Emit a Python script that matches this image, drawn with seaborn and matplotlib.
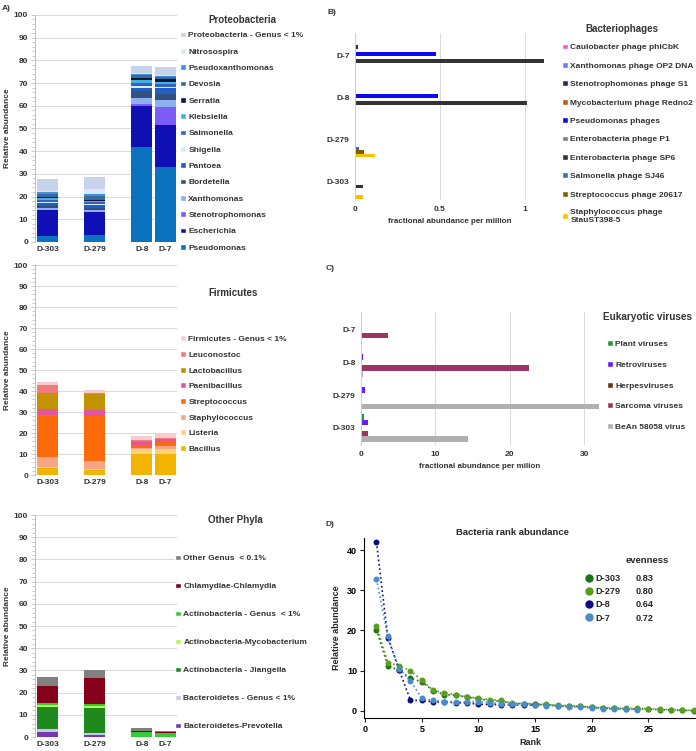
import numpy as np
import pandas as pd
import seaborn as sns
import matplotlib.pyplot as plt
from matplotlib.patches import Patch
from matplotlib.lines import Line2D
from matplotlib.ticker import MultipleLocator

sns.set_theme(style="white")
plt.rcParams["font.family"] = ["Liberation Sans", "DejaVu Sans"]
plt.rcParams["font.weight"] = "bold"
plt.rcParams["axes.labelweight"] = "bold"
TXT = "#333333"

# ---------------- data ----------------
samples = ["D-303", "D-279", "D-8", "D-7"]

# A) Proteobacteria, stacking order bottom -> top
proteo_genus = ["Pseudomonas", "Escherichia", "Stenotrophomonas", "Xanthomonas", "Bordetella",
                "Pantoea", "Shigella", "Salmonella", "Klebsiella", "Serratia", "Devosia",
                "Pseudoxanthomonas", "Nitrosospira", "Proteobacteria - Genus < 1%"]
proteo_colors = ["#0b72bf", "#1010b4", "#7b5cf5", "#8fb0f0", "#34507f", "#1f5fbf", "#d6ecfa",
                 "#3060c8", "#45b0e0", "#0d1a33", "#3a6a9a", "#3f8fe8", "#dce8f6", "#c8d2ea"]
proteo_d303 = [2.5, 11.5, 0.2, 0.7, 1.0, 1.2, 0.5, 1.0, 0.6, 0.5, 1.5, 0.8, 0.3, 5.4]
proteo_d279 = [3.0, 10.0, 0.3, 0.7, 0.8, 1.5, 0.4, 1.0, 0.5, 0.4, 1.8, 0.9, 2.0, 5.2]
proteo_d8   = [41.8, 17.9, 1.0, 2.7, 2.9, 1.5, 1.0, 1.2, 1.2, 1.2, 1.0, 0.8, 0.3, 2.8]
proteo_d7   = [32.9, 18.7, 7.8, 3.0, 2.9, 2.5, 0.6, 1.0, 1.2, 1.0, 1.0, 0.7, 0.3, 3.5]

# A) Firmicutes
firm_genus = ["Bacillus", "Listeria", "Staphylococcus", "Streptococcus", "Paenibacillus",
              "Lactobacillus", "Leuconostoc", "Firmicutes - Genus < 1%"]
firm_colors = ["#f2b400", "#ffd27a", "#f8a585", "#ff6a0a", "#e3579a", "#c39200", "#f27c7c", "#f9cdd0"]
firm_d303 = [3.2, 0.8, 4.4, 20.2, 2.7, 7.6, 4.0, 1.5]
firm_d279 = [2.2, 0.8, 3.7, 21.3, 3.0, 7.5, 0.7, 1.4]
firm_d8   = [10.2, 2.0, 0.8, 1.5, 1.3, 0.2, 0.6, 1.8]
firm_d7   = [10.0, 2.3, 1.5, 1.9, 1.3, 0.2, 0.4, 2.2]

# A) Other phyla
other_genus = ["Bacteroidetes-Prevotella", "Bacteroidetes - Genus < 1%", "Actinobacteria - Jiangella",
               "Actinobacteria-Mycobacterium", "Actinobacteria - Genus  < 1%",
               "Chlamydiae-Chlamydia", "Other Genus  < 0.1%"]
other_colors = ["#7a35b0", "#cac4f2", "#1e8a1e", "#b8f550", "#33cc33", "#85001a", "#808080"]
other_d303 = [2.1, 1.5, 9.9, 1.0, 0.8, 7.8, 3.9]
other_d279 = [1.0, 1.0, 11.0, 1.0, 0.8, 11.8, 3.7]
other_d8   = [0.0, 0.1, 0.1, 0.0, 2.2, 0.4, 1.3]
other_d7   = [0.0, 0.1, 0.1, 0.0, 1.6, 0.3, 0.4]

# B) Bacteriophages (samples top -> bottom)
samples_hb = ["D-7", "D-8", "D-279", "D-303"]
phage_names = ["Caulobacter phage phiCbK", "Xanthomonas phage OP2 DNA", "Stenotrophomonas phage S1",
               "Mycobacterium phage Redno2", "Pseudomonas phages", "Enterobacteria phage P1",
               "Enterobacteria phage SP6", "Salmonella phage SJ46", "Streptococcus phage 20617",
               "Staphylococcus phage\nStauST398-5"]
phage_colors = ["#f25cc5", "#6f7cff", "#1f2d5a", "#c55a11", "#0a0af0", "#808080",
                "#333333", "#2e75b6", "#7f6000", "#ffc000"]
caulobacter = [0, 0, 0, 0]
xanthomonas = [0.006, 0, 0, 0]
stenotroph  = [0.02, 0, 0, 0]
mycobact    = [0, 0.005, 0, 0]
pseudomonas = [0.476, 0.487, 0, 0]
entero_p1   = [0, 0, 0, 0]
entero_sp6  = [1.112, 1.01, 0, 0.047]
salmonella  = [0.005, 0, 0.024, 0]
streptoc    = [0, 0, 0.053, 0]
staphyloc   = [0, 0, 0.118, 0.047]

# C) Eukaryotic viruses
virus_names = ["Plant viruses", "Retroviruses", "Herpesviruses", "Sarcoma viruses", "BeAn 58058 virus"]
virus_colors = ["#1e9e2a", "#6a1bff", "#6b3410", "#9e3466", "#b0b0b0"]
plant   = [0.15, 0, 0, 0.45]
retro   = [0, 0.2, 0.5, 1.0]
herpes  = [0, 0, 0, 0]
sarcoma = [3.6, 22.6, 0, 1.0]
bean    = [0.1, 0.2, 32.5, 14.4]

# D) rank abundance
rank_samples = ["D-303", "D-279", "D-8", "D-7"]
rank_colors = ["#1a721a", "#5a9e1a", "#0c0c80", "#4a8cc8"]
evenness = ["0.83", "0.80", "0.64", "0.72"]
rank_d303 = [20.2, 11.2, 10.1, 8.1, 7.2, 5.0, 4.0, 3.9, 3.4, 3.0, 2.5, 2.4, 1.8, 1.8, 1.6,
             1.5, 1.3, 1.1, 1.1, 0.9, 0.7, 0.6, 0.5, 0.5, 0.4, 0.3, 0.2, 0.1, 0.05]
rank_d279 = [21.2, 12.0, 11.2, 10.0, 7.6, 5.1, 4.5, 4.0, 3.5, 3.1, 2.8, 2.6, 1.9, 1.8, 1.8,
             1.6, 1.4, 1.3, 1.2, 0.9, 0.8, 0.7, 0.6, 0.6, 0.5, 0.4, 0.3, 0.2, 0.1]
rank_d8   = [42.0, 18.2, 10.2, 2.6, 2.6, 2.2, 2.2, 2.0, 2.0, 1.6, 1.6, 1.5, 1.5, 1.4, 1.4]
rank_d7   = [32.8, 18.5, 10.5, 7.5, 3.1, 2.6, 2.3, 2.3, 2.2, 2.3, 2.0, 1.8, 1.6, 1.6, 1.5,
             1.3, 1.2, 1.0, 0.9, 0.7, 0.5, 0.4, 0.4, 0.3]

# ---------------- layout ----------------
bar_pos = [0, 2, 4, 5]
fig = plt.figure(figsize=(6.96, 7.51), dpi=100)


def stacked_panel(rect, genus, colors, cols, title, title_xy, leg_xy, spacing):
    ax = fig.add_axes(rect)
    vals = np.array(cols).T
    bottoms = np.zeros(len(samples))
    for g, c, v in zip(genus, colors, vals):
        ax.bar(bar_pos, v, bottom=bottoms, width=0.9, color=c, linewidth=0)
        bottoms += v
    ax.set_xlim(-0.55, 5.5)
    ax.set_ylim(0, 100)
    ax.set_yticks(range(0, 101, 10))
    ax.yaxis.set_minor_locator(MultipleLocator(2))
    ax.set_xticks(bar_pos, samples)
    ax.grid(axis="y", color="#d9d9d9", lw=0.7)
    ax.set_axisbelow(True)
    for s in ["top", "right", "bottom"]:
        ax.spines[s].set_visible(False)
    ax.spines["left"].set_color("#bfbfbf")
    ax.spines["left"].set_linewidth(0.7)
    ax.tick_params(axis="y", which="both", left=True, color="#bfbfbf", width=0.6,
                   labelsize=6, labelcolor=TXT, pad=2)
    ax.tick_params(axis="y", which="major", length=3)
    ax.tick_params(axis="y", which="minor", length=2)
    ax.tick_params(axis="x", length=0, labelsize=6, labelcolor=TXT, pad=3)
    ax.set_ylabel("Relative abundance", fontsize=6, color=TXT, labelpad=2)
    fig.text(*title_xy, title, fontsize=7, color=TXT, ha="center", va="center")
    handles = [Patch(facecolor=c) for c in colors[::-1]]
    fig.legend(handles, genus[::-1], loc="upper left", bbox_to_anchor=leg_xy, frameon=False,
               fontsize=6, labelcolor=TXT, handlelength=0.7, handleheight=0.7,
               handletextpad=0.3, labelspacing=spacing, borderpad=0, borderaxespad=0)
    return ax


stacked_panel([0.0503, 0.6778, 0.204, 0.3023], proteo_genus, proteo_colors,
              [proteo_d303, proteo_d279, proteo_d8, proteo_d7], "Proteobacteria",
              (0.348, 0.9734), (0.2586, 0.958), 1.02)
stacked_panel([0.0503, 0.3675, 0.204, 0.2796], firm_genus, firm_colors,
              [firm_d303, firm_d279, firm_d8, firm_d7], "Firmicutes",
              (0.335, 0.6099), (0.2586, 0.5533), 0.94)
stacked_panel([0.0503, 0.0186, 0.204, 0.2956], other_genus, other_colors,
              [other_d303, other_d279, other_d8, other_d7], "Other Phyla",
              (0.3376, 0.3076), (0.2514, 0.2616), 2.42)


def hbar_panel(rect, names, colors, series, xlim, ylim, xticks, xticklabels, xlabel,
               title, title_xy, leg_xy, spacing, title_size):
    ax = fig.add_axes(rect)
    rows = [(s, n, v) for n, vals in zip(names, series) for s, v in zip(samples_hb, vals)]
    df = pd.DataFrame(rows, columns=["sample", "group", "value"])
    sns.barplot(data=df, x="value", y="sample", hue="group", order=samples_hb,
                hue_order=names, palette=colors, orient="h", width=0.85, saturation=1,
                errorbar=None, legend=False, linewidth=0, ax=ax)
    ax.set_xlim(*xlim)
    ax.set_ylim(*ylim)
    ax.set_xticks(xticks, xticklabels)
    ax.grid(axis="x", color="#d9d9d9", lw=0.7)
    ax.set_axisbelow(True)
    for s in ["top", "right", "bottom"]:
        ax.spines[s].set_visible(False)
    ax.spines["left"].set_color("#d0d0d0")
    ax.spines["left"].set_linewidth(0.7)
    ax.tick_params(axis="both", length=0, labelsize=6, labelcolor=TXT, pad=4)
    ax.set_ylabel("")
    ax.set_xlabel(xlabel, fontsize=5.8, color=TXT, labelpad=4)
    fig.text(*title_xy, title, fontsize=title_size, color=TXT, ha="center", va="center")
    handles = [Patch(facecolor=c) for c in colors]
    fig.legend(handles, names, loc="upper left", bbox_to_anchor=leg_xy, frameon=False,
               fontsize=6, labelcolor=TXT, handlelength=0.7, handleheight=0.7,
               handletextpad=0.3, labelspacing=spacing, borderpad=0, borderaxespad=0)
    return ax


hbar_panel([0.510, 0.7337, 0.273, 0.2224], phage_names, phage_colors,
           [caulobacter, xanthomonas, stenotroph, mycobact, pseudomonas, entero_p1,
            entero_sp6, salmonella, streptoc, staphyloc],
           (0, 1.118), (3.45, -0.55), [0, 0.5, 1], ["0", "0.5", "1"],
           "fractional abundance per million", "Bacteriophages", (0.8937, 0.9614),
           (0.8075, 0.9420), 1.27, 7)
hbar_panel([0.5187, 0.4075, 0.342, 0.1771], virus_names, virus_colors,
           [plant, retro, herpes, sarcoma, bean],
           (0, 32), (3.52, -0.55), [0, 10, 20, 30], ["0", "10", "20", "30"],
           "fractional abundance per milion", "Eukaryotic viruses", (0.931, 0.5779),
           (0.872, 0.5470), 1.55, 7.2)

# D) rank abundance
axD = fig.add_axes([0.523, 0.0439, 0.477, 0.2397])
rows = [(s, i + 1, v) for s, vals in zip(rank_samples, [rank_d303, rank_d279, rank_d8, rank_d7])
        for i, v in enumerate(vals)]
dfD = pd.DataFrame(rows, columns=["sample", "rank", "abund"])
sns.lineplot(data=dfD, x="rank", y="abund", hue="sample", hue_order=rank_samples,
             palette=rank_colors, marker="o", markersize=4.3, markeredgewidth=0,
             linestyle=":", lw=1.2, legend=False, ax=axD)
axD.set_xlim(-0.1, 29.2)
axD.set_ylim(-1.8, 43)
axD.set_xticks(range(0, 30, 5))
axD.set_yticks(range(0, 41, 10))
for s in ["top", "right"]:
    axD.spines[s].set_visible(False)
for s in ["left", "bottom"]:
    axD.spines[s].set_color("black")
    axD.spines[s].set_linewidth(0.8)
axD.tick_params(axis="both", bottom=True, left=True, direction="out", length=3, width=0.8,
                labelsize=6.5, labelcolor="black", pad=2)
axD.set_xlabel("Rank", fontsize=6.5, labelpad=3)
axD.set_ylabel("Relative abundance", fontsize=6.5, labelpad=4)
fig.text(0.7356, 0.2916, "Bacteria rank abundance", fontsize=6.8, ha="center", va="center")
fig.text(0.9296, 0.253, "evenness", fontsize=6.8, ha="center", va="center")
handles = [Line2D([], [], marker="o", ls="", color=c, markersize=5) for c in rank_colors]
handles += [Line2D([], [], marker="", ls="") for _ in rank_colors]
fig.legend(handles, rank_samples + evenness, loc="upper left", bbox_to_anchor=(0.8405, 0.2355),
           ncol=2, frameon=False, fontsize=6.6, handlelength=0.8, handletextpad=0.3,
           columnspacing=0.55, labelspacing=0.45, borderpad=0, borderaxespad=0)

# panel letters
for lab, xy in [("A)", (0.003, 0.989)), ("B)", (0.470, 0.984)),
                ("C)", (0.468, 0.642)), ("D)", (0.468, 0.301))]:
    fig.text(*xy, lab, fontsize=6, color=TXT, ha="left", va="center")

fig.savefig("out.png", dpi=100)
